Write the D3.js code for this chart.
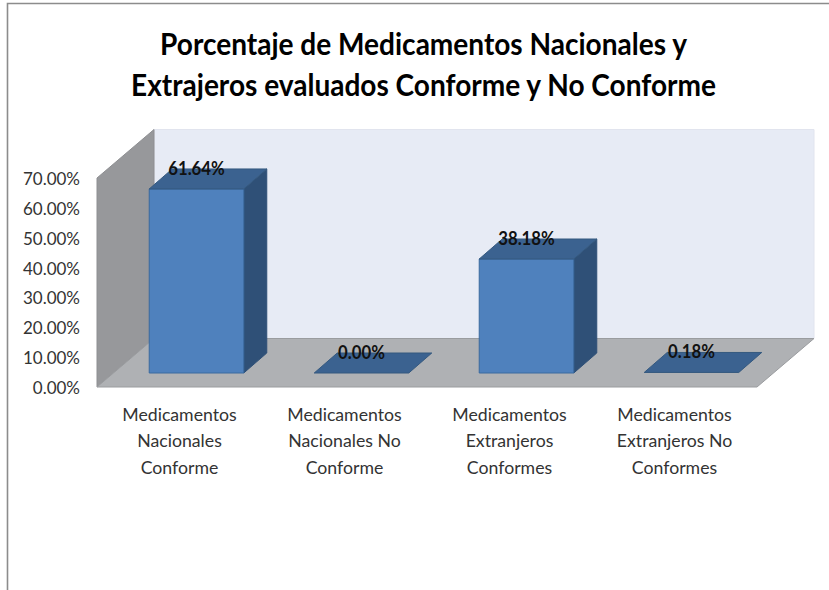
<!DOCTYPE html>
<html><head><meta charset="utf-8">
<script src="https://cdn.jsdelivr.net/npm/d3@7"></script>
<style>html,body{margin:0;padding:0;background:#fff}svg{display:block}text{font-family:Lato,"Open Sans",sans-serif}</style>
</head><body><svg id="c" width="829" height="590"></svg>
<script>
const categories=[["Medicamentos","Nacionales","Conforme"],["Medicamentos","Nacionales No","Conforme"],["Medicamentos","Extranjeros","Conformes"],["Medicamentos","Extranjeros No","Conformes"]];
const values=[61.64,0,38.18,0.18];
const valueLabels=["61.64%","0.00%","38.18%","0.18%"];
const tickValues=[0,10,20,30,40,50,60,70];
const titleLines=["Porcentaje de Medicamentos Nacionales y","Extrajeros evaluados Conforme y No Conforme"];

const svg=d3.select("#c");
const x=d3.scaleBand().domain(d3.range(categories.length)).range([97,757]).paddingInner(0.427).paddingOuter(0.2135);
const y=d3.scaleLinear().domain([0,70]).range([387,178]);
const wallDx=57,wallDy=48.5;
const barInsetX=17,barInsetY=14;
const barDx=23,barDy=20;
const poly=(pts,fill,stroke)=>svg.append("polygon").attr("points",pts.map(p=>p.join(",")).join(" ")).attr("fill",fill).attr("stroke",stroke||"none").attr("stroke-width",stroke?1:0);

// frame
svg.append("path").attr("d","M7.5,590V3.5H829").attr("fill","none").attr("stroke","#8c8c8c").attr("stroke-width",1.6);

const [x0,x1]=x.range(),yb=y(0),yt=y(70);
poly([[x0+wallDx,yt-wallDy],[x1+wallDx,yt-wallDy],[x1+wallDx,yb-wallDy],[x0+wallDx,yb-wallDy]],"#E7EBF5","#E1E4EE");
poly([[x0,yt],[x0+wallDx,yt-wallDy],[x0+wallDx,yb-wallDy],[x0,yb]],"#97989B","#8E8F92");
poly([[x0,yb],[x0+wallDx,yb-wallDy],[x1+wallDx,yb-wallDy],[x1,yb]],"#AFB1B4","#9A9C9F");

const g=d3.range(values.length);
g.forEach(i=>{
  const l=x(i)+barInsetX,r=l+x.bandwidth(),b=y(0)-barInsetY,t=y(values[i])-barInsetY;
  if(b-t>1){
    poly([[r,t],[r+barDx,t-barDy],[r+barDx,b-barDy],[r,b]],"#2F5077","#2F5077");
    poly([[l,t],[r,t],[r,b],[l,b]],"#4F81BD","#3A6A9F");
  }
  poly([[l,t],[l+barDx,t-barDy],[r+barDx,t-barDy],[r,t]],"#3B6290","#35597F");
});

g.forEach(i=>{
  const l=x(i)+barInsetX,t=y(values[i])-barInsetY;
  svg.append("text").attr("transform",`translate(${l+x.bandwidth()/2},${t-barDy+6}) scale(0.86,1)`)
    .attr("text-anchor","middle").attr("font-size",19.5).attr("font-weight",700).attr("fill","#111").text(valueLabels[i]);
});

svg.append("g").selectAll("text").data(tickValues).join("text")
  .attr("x",80).attr("y",d=>y(d)+7).attr("text-anchor","end")
  .attr("font-size",17).attr("fill","#333").text(d=>d3.format(".2f")(d)+"%");

g.forEach(i=>{
  const t=svg.append("text").attr("text-anchor","middle").attr("font-size",17.7).attr("fill","#333");
  categories[i].forEach((s,k)=>t.append("tspan").attr("x",x(i)+x.bandwidth()/2).attr("y",421+k*26.3).text(s));
});

titleLines.forEach((s,k)=>svg.append("text")
  .attr("transform",`translate(423.5,${55+k*41}) scale(0.905,1)`).attr("text-anchor","middle")
  .attr("font-size",31).attr("font-weight",700).attr("fill","#000").text(s));
</script></body></html>
